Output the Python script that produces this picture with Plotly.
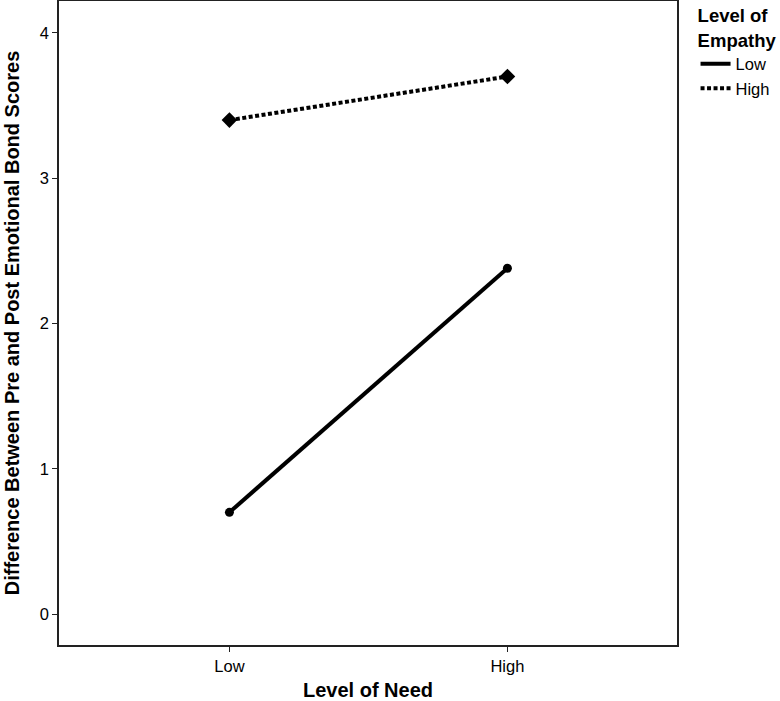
import plotly.graph_objects as go

need_levels = ["Low", "High"]
empathy_low = [0.70, 2.38]
empathy_high = [3.40, 3.70]
y_ticks = [0, 1, 2, 3, 4]

FONT = "Liberation Sans, Arial, sans-serif"
INK = "#000000"

fig = go.Figure()
fig.add_trace(go.Scatter(
    x=need_levels, y=empathy_low, name="Low", mode="lines",
    line=dict(color=INK, width=4), showlegend=True))
fig.add_trace(go.Scatter(
    x=need_levels, y=empathy_high, name="High", mode="lines",
    line=dict(color=INK, width=4, dash="4px,2.5px"), showlegend=True))
fig.add_trace(go.Scatter(
    x=need_levels, y=empathy_low, mode="markers", showlegend=False,
    marker=dict(symbol="circle", size=9, color=INK)))
fig.add_trace(go.Scatter(
    x=need_levels, y=empathy_high, mode="markers", showlegend=False,
    marker=dict(symbol="diamond", size=12, color=INK)))

fig.update_layout(
    width=780, height=701,
    margin=dict(l=59, r=103, t=1, b=56, autoexpand=False),
    paper_bgcolor="white", plot_bgcolor="white",
    font=dict(family=FONT, size=16.5, color=INK),
    legend=dict(
        x=1.03, y=1.004, xanchor="left", yanchor="top",
        title=dict(text="<b>Level of<br>Empathy</b>", side="top center",
                   font=dict(family=FONT, size=18.5, color=INK)),
        font=dict(family=FONT, size=16.5, color=INK),
        itemwidth=30, tracegroupgap=0, bgcolor="rgba(0,0,0,0)",
    ),
    xaxis=dict(
        type="category", range=[-0.613, 1.61],
        showline=True, mirror=True, linecolor="#222", linewidth=1.5,
        ticks="outside", ticklen=5, tickwidth=1.2, tickcolor="#222",
        showgrid=False, zeroline=False,
        title=dict(text="<b>Level of Need</b>", standoff=15,
                   font=dict(family=FONT, size=20, color=INK)),
        tickfont=dict(family=FONT, size=16.5, color=INK),
    ),
    yaxis=dict(
        range=[-0.213, 4.22], tickvals=y_ticks,
        showline=True, mirror=True, linecolor="#222", linewidth=1.5,
        ticks="outside", ticklen=5, tickwidth=1.2, tickcolor="#222",
        showgrid=False, zeroline=False,
        title=dict(text="<b>Difference Between Pre and Post Emotional Bond Scores</b>",
                   standoff=15, font=dict(family=FONT, size=20, color=INK)),
        tickfont=dict(family=FONT, size=16.5, color=INK),
    ),
)

fig.write_html("out.html")
